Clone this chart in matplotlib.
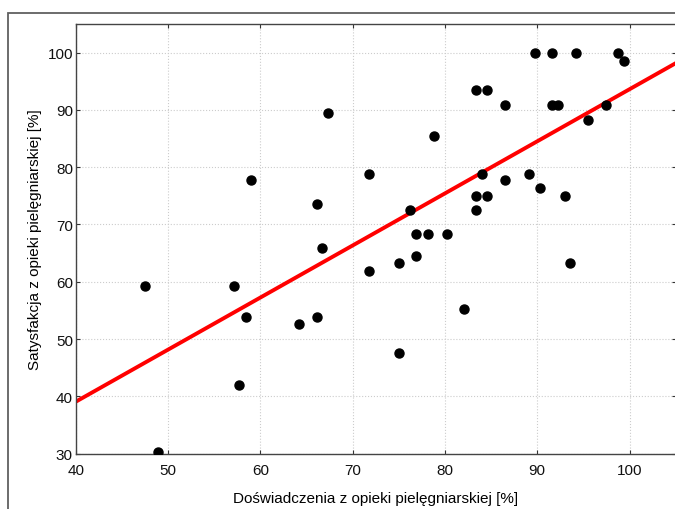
import matplotlib
matplotlib.use("Agg")
import matplotlib.pyplot as plt
from matplotlib.patches import Rectangle
import numpy as np

plt.rcParams['font.family'] = ['Liberation Sans', 'DejaVu Sans']

# Doświadczenia (x) vs Satysfakcja (y), w procentach
doswiadczenia = [47.5, 48.9, 57.1, 57.7, 58.4, 59.0, 64.2, 66.1, 66.1, 66.7,
                 67.3, 71.8, 71.8, 75.0, 75.0, 76.2, 76.9, 76.9, 78.2, 78.8,
                 80.2, 82.1, 83.4, 83.4, 83.4, 84.0, 84.6, 84.6, 86.5, 86.5,
                 89.1, 89.8, 90.3, 91.6, 91.6, 92.3, 93.0, 93.6, 94.2, 95.5,
                 97.4, 98.7, 99.4]
satysfakcja = [59.3, 30.3, 59.3, 42.0, 53.9, 77.7, 52.7, 73.6, 53.9, 65.9,
               89.5, 78.9, 61.8, 63.2, 47.5, 72.5, 68.4, 64.5, 68.4, 85.5,
               68.4, 55.2, 93.4, 75.0, 72.5, 78.9, 93.4, 75.0, 90.9, 77.7,
               78.9, 100.0, 76.4, 100.0, 90.9, 90.9, 75.0, 63.2, 100.0, 88.2,
               90.9, 100.0, 98.6]
xticks = [40, 50, 60, 70, 80, 90, 100]
yticks = [30, 40, 50, 60, 70, 80, 90, 100]

fig = plt.figure(figsize=(6.75, 5.1), dpi=100)
ax = fig.add_axes([75.7/675, 55.4/510, 600/675, 429.6/510])

# outer frame
fig.patches.append(Rectangle((8/675, -0.1), 1.2, 1 - 14/510 + 0.1,
                             transform=fig.transFigure, fill=False,
                             edgecolor='#606060', lw=1.3))

ax.grid(True, linestyle=':', color='#cccccc', lw=0.8)
ax.set_axisbelow(True)

x = np.array(doswiadczenia)
y = np.array(satysfakcja)
a, b = np.polyfit(x, y, 1)
xl = np.array([40, 105])
ax.plot(xl, a*xl + b, color='#ff0000', lw=2.8, zorder=2)
ax.plot(x, y, 'o', color='black', markersize=6.5, zorder=3)

ax.set_xlim(40, 105)
ax.set_ylim(30, 105)
ax.set_xticks(xticks)
ax.set_yticks(yticks)
ax.tick_params(direction='in', top=True, right=True, labelsize=11, length=3,
               color='#333333', labelcolor='#111111')
ax.tick_params(axis='x', pad=7)
ax.tick_params(axis='y', pad=2)
for s in ax.spines.values():
    s.set_color('#444444')
    s.set_linewidth(1.0)

ax.set_xlabel("Doświadczenia z opieki pielęgniarskiej [%]", fontsize=11, labelpad=10)
ax.set_ylabel("Satysfakcja z opieki pielęgniarskiej [%]", fontsize=11, labelpad=4)

fig.savefig("out.png", dpi=100)
